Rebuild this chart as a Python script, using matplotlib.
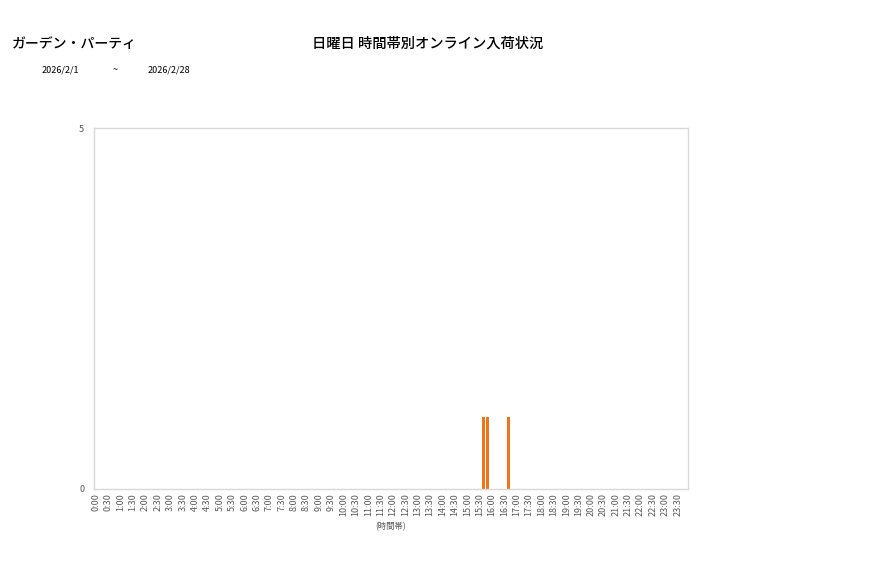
import numpy as np
import matplotlib
matplotlib.use('Agg')
import matplotlib.pyplot as plt

plt.rcParams['font.family'] = ['Noto Sans CJK JP', 'DejaVu Sans']

# 10-minute slots over the day, labels every 30 min
slots = ['%d:%02d' % (h, m) for h in range(24) for m in (0, 10, 20, 30, 40, 50)]
counts = np.zeros(len(slots))
counts[slots.index('15:40')] = 1
counts[slots.index('15:50')] = 1
counts[slots.index('16:40')] = 1

tick_labels = ['%d:%02d' % (h, m) for h in range(24) for m in (0, 30)]

store_name = 'ガーデン・パーティ'
chart_title = '日曜日 時間帯別オンライン入荷状況'
date_from = '2026/2/1'
date_to = '2026/2/28'

fig = plt.figure(figsize=(8.77, 5.78), dpi=100)
ax = fig.add_axes([94 / 877, 1 - 489 / 578, (688 - 94) / 877, (489 - 128) / 578])

x = np.arange(len(slots))
ax.bar(x, counts, width=0.72, color='#f27418')

ax.set_xlim(-0.5, len(slots) - 0.5)
ax.set_ylim(0, 5)
ax.set_yticks([0, 5])
ax.set_xticks([slots.index(t) for t in tick_labels])
ax.set_xticklabels(tick_labels, rotation=90, fontsize=6.5, color='#595959')
ax.tick_params(axis='y', labelsize=6.5, labelcolor='#595959', length=0, pad=7)
ax.tick_params(axis='x', length=0, pad=3)
for s in ax.spines.values():
    s.set_color('#d9d9d9')
    s.set_linewidth(1)

ax.set_xlabel('(時間帯)', fontsize=6, color='#595959', labelpad=4)

fig.text(12 / 877, 1 - 44 / 578, store_name, fontsize=10, fontweight='medium', va='center', ha='left')
fig.text(428 / 877, 1 - 44 / 578, chart_title, fontsize=10.3, fontweight='medium', va='center', ha='center')
fig.text(42 / 877, 1 - 70 / 578, date_from, fontsize=6.5, va='center', ha='left')
fig.text(113 / 877, 1 - 70 / 578, '~', fontsize=6.5, va='center', ha='left')
fig.text(148 / 877, 1 - 70 / 578, date_to, fontsize=6.5, va='center', ha='left')

fig.savefig('out.png', dpi=100)
